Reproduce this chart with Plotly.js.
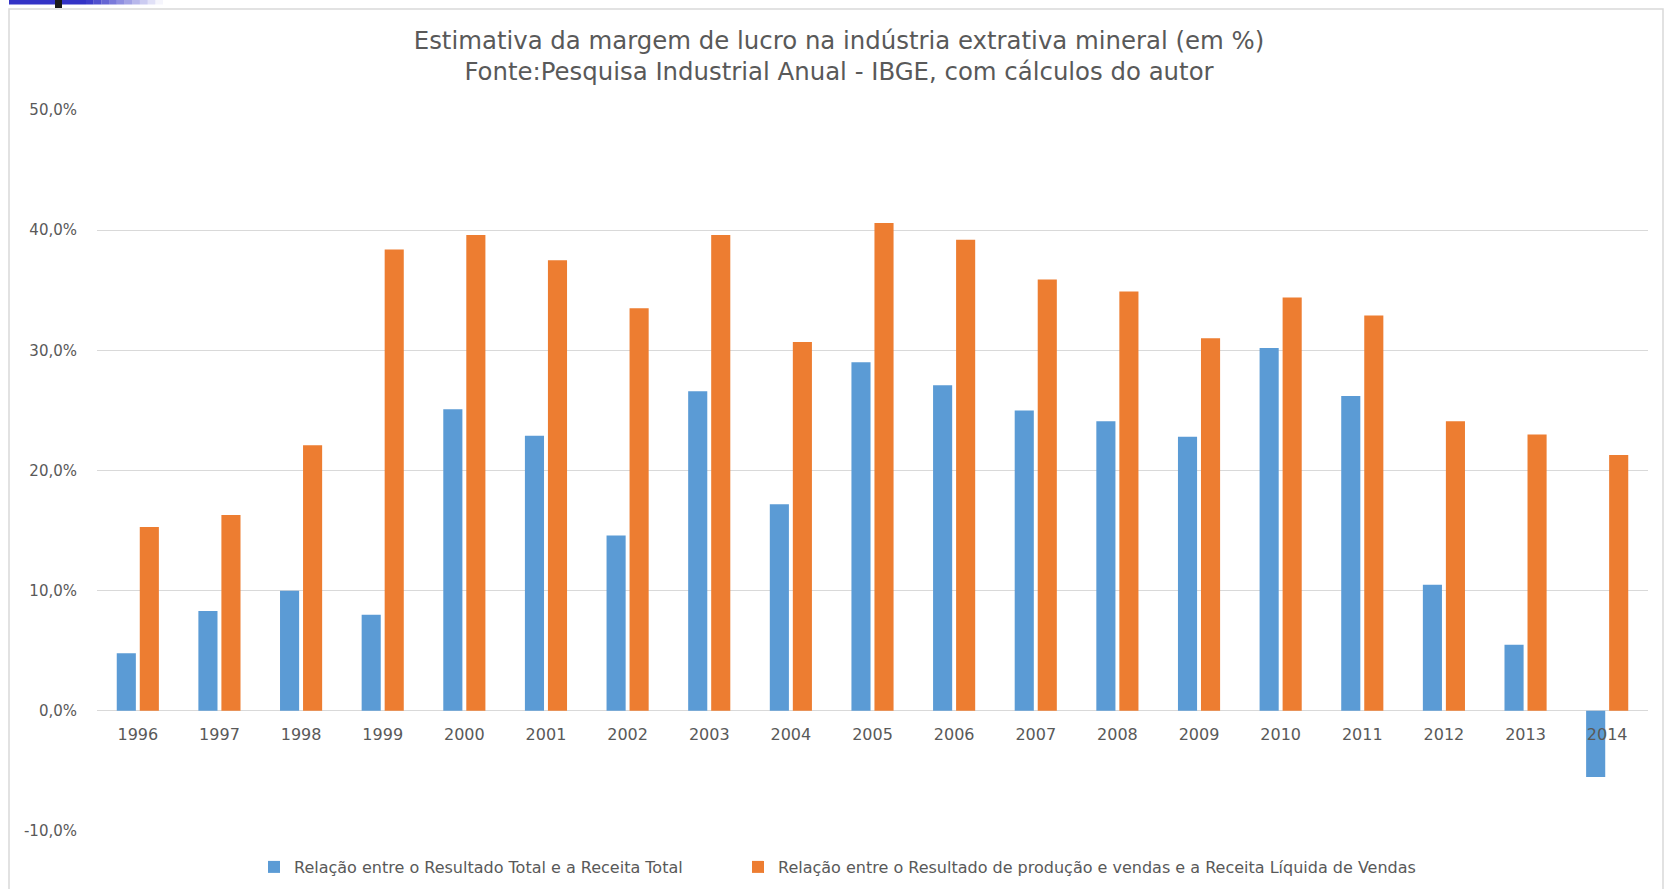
<!DOCTYPE html>
<html>
<head>
<meta charset="utf-8">
<script src="https://cdn.plot.ly/plotly-3.0.1.min.js"></script>
<style>
  html, body { margin: 0; padding: 0; background: #ffffff; }
  #chart { width: 1671px; height: 889px; }
</style>
</head>
<body>
<div id="chart"></div>
<script>
// ---- Data ----
const years = ['1996','1997','1998','1999','2000','2001','2002','2003','2004','2005',
               '2006','2007','2008','2009','2010','2011','2012','2013','2014'];

const resultadoTotal = [4.8, 8.3, 10.0, 8.0, 25.1, 22.9, 14.6, 26.6, 17.2, 29.0,
                        27.1, 25.0, 24.1, 22.8, 30.2, 26.2, 10.5, 5.5, -5.5];

const resultadoProducao = [15.3, 16.3, 22.1, 38.4, 39.6, 37.5, 33.5, 39.6, 30.7, 40.6,
                           39.2, 35.9, 34.9, 31.0, 34.4, 32.9, 24.1, 23.0, 21.3];

const seriesNames = [
  'Relação entre o Resultado Total e a Receita Total',
  'Relação entre o Resultado de produção e vendas e a Receita Líquida de Vendas'
];

const yTickVals = [-10, 0, 10, 20, 30, 40, 50];
const yTickText = ['-10,0%', '0,0%', '10,0%', '20,0%', '30,0%', '40,0%', '50,0%'];

const titleText = 'Estimativa da margem de lucro na indústria extrativa mineral (em %)<br>' +
                  'Fonte:Pesquisa Industrial Anual - IBGE, com cálculos do autor';

// ---- Layout geometry ----
const W = 1671, H = 889;
const PL = 97, PR = 1648, PT = 110, PB = 831;
const px2x = p => (p - PL) / (PR - PL);
const px2y = p => (PB - p) / (PB - PT);

const textGray = '#595959';
const gridGray = '#d9d9d9';

const traces = [
  {
    type: 'bar', name: seriesNames[0], x: years, y: resultadoTotal,
    marker: { color: '#5B9BD5', line: { width: 0 } },
    legend: 'legend'
  },
  {
    type: 'bar', name: seriesNames[1], x: years, y: resultadoProducao,
    marker: { color: '#ED7D31', line: { width: 0 } },
    legend: 'legend2'
  }
];

// decorative frame + top-left strip
const shapes = [
  { type: 'rect', xref: 'paper', yref: 'paper', layer: 'below',
    x0: px2x(9), x1: px2x(1663), y0: px2y(905), y1: px2y(9),
    line: { color: gridGray, width: 1.5 }, fillcolor: 'rgba(0,0,0,0)' },
  { type: 'rect', xref: 'paper', yref: 'paper',
    x0: px2x(9), x1: px2x(86), y0: px2y(4.5), y1: px2y(0),
    line: { width: 0 }, fillcolor: '#3333c6' }
];
const steps = 10;
for (let i = 0; i < steps; i++) {
  const a = 1 - (i + 0.5) / steps;
  shapes.push({ type: 'rect', xref: 'paper', yref: 'paper',
    x0: px2x(86 + i * 7.7), x1: px2x(86 + (i + 1) * 7.7), y0: px2y(4.5), y1: px2y(0),
    line: { width: 0 }, fillcolor: 'rgba(51,51,198,' + a.toFixed(2) + ')' });
}
shapes.push({ type: 'rect', xref: 'paper', yref: 'paper',
  x0: px2x(55), x1: px2x(62), y0: px2y(8), y1: px2y(0),
  line: { width: 0 }, fillcolor: '#1a1a1a' });

const legendBase = {
  orientation: 'h',
  xref: 'container', yref: 'container',
  xanchor: 'left',
  y: 1 - 867 / H, yanchor: 'middle',
  font: { family: 'DejaVu Sans', size: 16, color: textGray },
  bgcolor: 'rgba(0,0,0,0)', borderwidth: 0
};

const layout = {
  width: W, height: H,
  margin: { l: PL, r: W - PR, t: PT, b: H - PB, pad: 0 },
  paper_bgcolor: '#ffffff',
  plot_bgcolor: '#ffffff',
  font: { family: 'DejaVu Sans', color: textGray, size: 15 },
  title: {
    text: titleText,
    font: { family: 'DejaVu Sans', size: 24.4, color: textGray },
    xref: 'container', yref: 'container',
    x: 839 / W, xanchor: 'center',
    y: 1 - 48.5 / H, yanchor: 'top'
  },
  barmode: 'group',
  bargap: 0.436,
  bargroupgap: 0.17,
  xaxis: {
    type: 'category',
    anchor: 'free',
    position: (0 - (-10)) / 60,
    showgrid: false, showline: false, zeroline: false,
    ticks: '',
    tickfont: { family: 'DejaVu Sans', size: 16, color: textGray },
    ticklabelstandoff: 12
  },
  yaxis: {
    range: [-10, 50],
    tickvals: yTickVals, ticktext: yTickText,
    showgrid: true, gridcolor: gridGray, gridwidth: 1.3,
    zeroline: true, zerolinecolor: gridGray, zerolinewidth: 1.3,
    showline: false, ticks: '',
    tickfont: { family: 'DejaVu Sans', size: 15, color: textGray },
    ticklabelstandoff: 19
  },
  showlegend: true,
  legend: Object.assign({}, legendBase, { x: 254 / W }),
  legend2: Object.assign({}, legendBase, { x: 738 / W }),
  shapes: shapes
};

Plotly.newPlot('chart', traces, layout, { displayModeBar: false, staticPlot: true });
</script>
</body>
</html>
